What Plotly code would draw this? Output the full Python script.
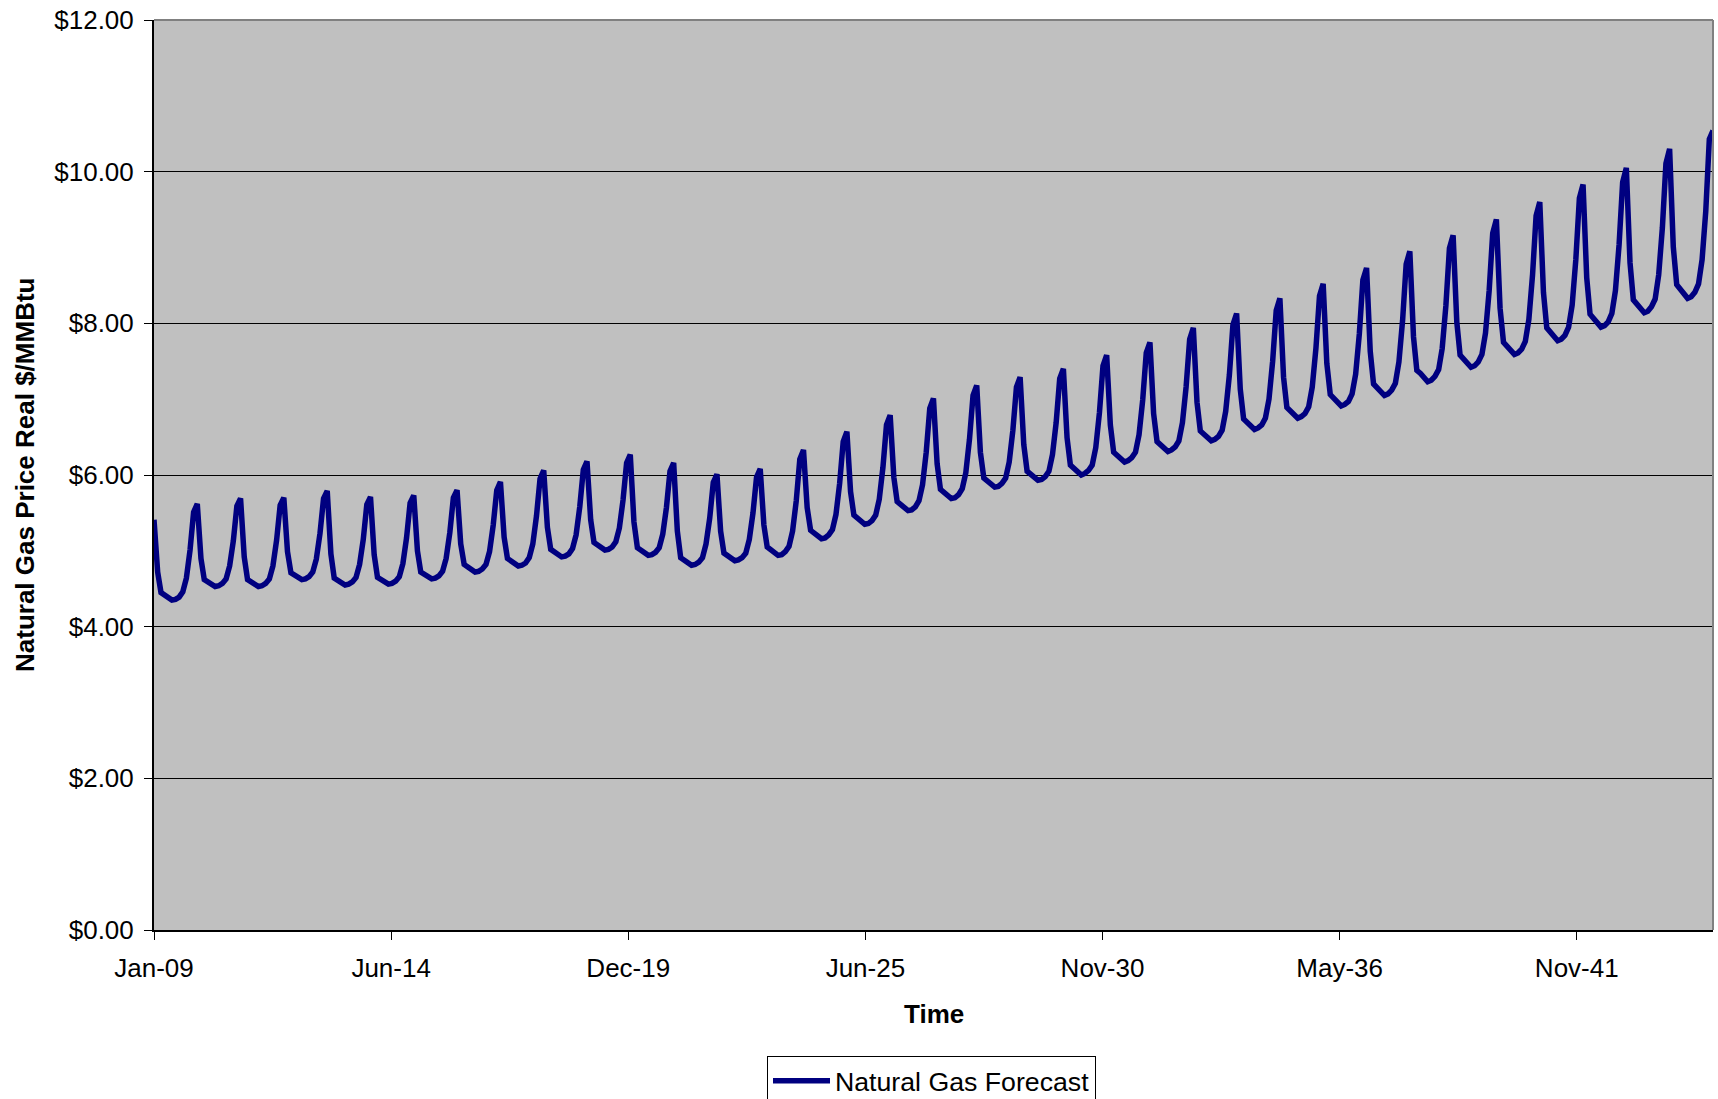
import pandas as pd
import plotly.graph_objects as go

series_name = "Natural Gas Forecast"
first_month = "2009-01-01"

# Monthly natural gas price forecast (real $/MMBtu), Jan-2009 through Jan-2045
gas_price = [
    5.41, 4.72, 4.45, 4.42, 4.38, 4.35, 4.36, 4.39, 4.46, 4.64, 5.01, 5.51,   # 2009
    5.62, 4.90, 4.62, 4.59, 4.56, 4.53, 4.54, 4.57, 4.63, 4.80, 5.13, 5.59,   # 2010
    5.69, 4.92, 4.62, 4.59, 4.56, 4.53, 4.54, 4.57, 4.63, 4.80, 5.14, 5.60,   # 2011
    5.70, 4.99, 4.71, 4.68, 4.65, 4.62, 4.63, 4.66, 4.72, 4.89, 5.23, 5.69,   # 2012
    5.79, 4.96, 4.64, 4.61, 4.58, 4.55, 4.56, 4.59, 4.65, 4.82, 5.15, 5.61,   # 2013
    5.71, 4.95, 4.65, 4.62, 4.59, 4.56, 4.57, 4.60, 4.66, 4.83, 5.17, 5.63,   # 2014
    5.73, 5.00, 4.72, 4.69, 4.66, 4.63, 4.64, 4.67, 4.73, 4.90, 5.24, 5.70,   # 2015
    5.80, 5.09, 4.82, 4.79, 4.75, 4.72, 4.73, 4.76, 4.82, 4.99, 5.34, 5.80,   # 2016
    5.91, 5.18, 4.90, 4.87, 4.83, 4.80, 4.81, 4.84, 4.91, 5.09, 5.46, 5.95,   # 2017
    6.06, 5.31, 5.02, 4.99, 4.95, 4.92, 4.93, 4.96, 5.03, 5.21, 5.58, 6.07,   # 2018
    6.18, 5.41, 5.11, 5.08, 5.04, 5.01, 5.02, 5.05, 5.12, 5.30, 5.67, 6.16,   # 2019
    6.27, 5.38, 5.04, 5.01, 4.97, 4.94, 4.95, 4.98, 5.04, 5.22, 5.57, 6.05,   # 2020
    6.16, 5.26, 4.91, 4.88, 4.84, 4.81, 4.82, 4.85, 4.91, 5.09, 5.43, 5.90,   # 2021
    6.01, 5.26, 4.97, 4.94, 4.90, 4.87, 4.88, 4.91, 4.97, 5.15, 5.50, 5.97,   # 2022
    6.08, 5.34, 5.05, 5.02, 4.98, 4.94, 4.95, 4.99, 5.06, 5.26, 5.66, 6.21,   # 2023
    6.33, 5.57, 5.27, 5.24, 5.20, 5.16, 5.17, 5.21, 5.28, 5.48, 5.89, 6.44,   # 2024
    6.57, 5.78, 5.47, 5.43, 5.39, 5.35, 5.36, 5.40, 5.47, 5.68, 6.10, 6.66,   # 2025
    6.79, 5.97, 5.65, 5.61, 5.57, 5.53, 5.54, 5.58, 5.66, 5.87, 6.30, 6.88,   # 2026
    7.01, 6.15, 5.81, 5.77, 5.73, 5.69, 5.70, 5.74, 5.82, 6.03, 6.47, 7.05,   # 2027
    7.18, 6.30, 5.96, 5.92, 5.88, 5.84, 5.85, 5.89, 5.96, 6.17, 6.59, 7.16,   # 2028
    7.29, 6.40, 6.05, 6.01, 5.97, 5.93, 5.94, 5.98, 6.05, 6.27, 6.69, 7.27,   # 2029
    7.40, 6.49, 6.13, 6.09, 6.04, 6.00, 6.02, 6.06, 6.13, 6.36, 6.82, 7.44,   # 2030
    7.58, 6.66, 6.30, 6.26, 6.21, 6.17, 6.19, 6.23, 6.30, 6.53, 6.99, 7.61,   # 2031
    7.75, 6.81, 6.44, 6.40, 6.35, 6.31, 6.33, 6.37, 6.45, 6.69, 7.16, 7.79,   # 2032
    7.94, 6.96, 6.58, 6.54, 6.49, 6.45, 6.47, 6.51, 6.59, 6.84, 7.32, 7.98,   # 2033
    8.13, 7.13, 6.74, 6.70, 6.64, 6.60, 6.62, 6.66, 6.75, 7.00, 7.50, 8.17,   # 2034
    8.33, 7.29, 6.89, 6.85, 6.79, 6.75, 6.77, 6.81, 6.90, 7.16, 7.67, 8.36,   # 2035
    8.52, 7.47, 7.06, 7.01, 6.96, 6.91, 6.93, 6.97, 7.07, 7.33, 7.86, 8.57,   # 2036
    8.73, 7.63, 7.20, 7.16, 7.10, 7.05, 7.07, 7.12, 7.21, 7.49, 8.04, 8.78,   # 2037
    8.95, 7.82, 7.38, 7.34, 7.28, 7.23, 7.25, 7.30, 7.39, 7.67, 8.23, 8.99,   # 2038
    9.16, 8.02, 7.58, 7.53, 7.47, 7.42, 7.44, 7.49, 7.59, 7.87, 8.43, 9.19,   # 2039
    9.37, 8.20, 7.75, 7.70, 7.64, 7.59, 7.61, 7.66, 7.76, 8.05, 8.64, 9.42,   # 2040
    9.60, 8.41, 7.94, 7.88, 7.82, 7.77, 7.79, 7.84, 7.95, 8.24, 8.84, 9.65,   # 2041
    9.83, 8.60, 8.12, 8.07, 8.00, 7.95, 7.97, 8.02, 8.13, 8.43, 9.04, 9.86,   # 2042
    10.05, 8.80, 8.31, 8.26, 8.19, 8.14, 8.16, 8.22, 8.32, 8.64, 9.26, 10.11, # 2043
    10.30, 9.01, 8.51, 8.45, 8.39, 8.33, 8.35, 8.41, 8.52, 8.84, 9.48, 10.43, # 2044
    10.54,                                                                    # 2045
]

x_tick_labels = ["Jan-09", "Jun-14", "Dec-19", "Jun-25", "Nov-30", "May-36", "Nov-41"]
y_tick_values = [0, 2, 4, 6, 8, 10, 12]
y_tick_labels = ["$0.00", "$2.00", "$4.00", "$6.00", "$8.00", "$10.00", "$12.00"]

x_title = "Time"
y_title = "Natural Gas Price Real $/MMBtu"

# one point per month
months = pd.date_range(first_month, periods=len(gas_price), freq="MS")

# date axis labelled every 2000 days from the first month
label_days = 2000
tick_dates = [months[0] + pd.Timedelta(days=label_days * i) for i in range(len(x_tick_labels))]

FONT = "Arial, 'Liberation Sans', sans-serif"

fig = go.Figure(
    go.Scatter(
        x=months,
        y=gas_price,
        mode="lines",
        name=series_name,
        line=dict(color="#000080", width=5.5),
        showlegend=True,
    )
)

fig.update_layout(
    width=1718,
    height=1099,
    margin=dict(l=154, r=5, t=20, b=169, autoexpand=False),
    paper_bgcolor="white",
    plot_bgcolor="#C0C0C0",
    font=dict(family=FONT, size=26, color="black"),
    showlegend=True,
    legend=dict(
        orientation="h",
        x=(767 - 154) / 1559,
        y=(930 - 1056) / 910,
        xanchor="left",
        yanchor="top",
        itemwidth=57,
        bordercolor="black",
        borderwidth=1,
        bgcolor="white",
        font=dict(family=FONT, size=26.7, color="black"),
    ),
)

fig.update_xaxes(
    type="date",
    range=[months[0], months[-1]],
    tickvals=tick_dates,
    ticktext=x_tick_labels,
    ticks="outside",
    ticklen=8,
    tickwidth=1,
    tickcolor="black",
    ticklabelstandoff=6,
    showline=True,
    linecolor="black",
    linewidth=2,
    showgrid=False,
    zeroline=False,
    tickfont=dict(family=FONT, size=26, color="black"),
)

fig.update_yaxes(
    range=[0, 12],
    tickvals=y_tick_values,
    ticktext=y_tick_labels,
    ticks="outside",
    ticklen=8,
    tickwidth=1,
    tickcolor="black",
    ticklabelstandoff=5,
    showline=True,
    linecolor="black",
    linewidth=2,
    showgrid=True,
    gridcolor="black",
    gridwidth=1,
    zeroline=False,
    tickfont=dict(family=FONT, size=26, color="black"),
)

# grey frame along the top and right of the plotting area
fig.add_shape(
    type="line", xref="x domain", yref="y domain",
    x0=0, x1=1, y0=1, y1=1, line=dict(color="#808080", width=2), layer="above",
)
fig.add_shape(
    type="line", xref="x domain", yref="y domain",
    x0=1, x1=1, y0=0, y1=1, line=dict(color="#808080", width=2), layer="above",
)

# axis titles
fig.add_annotation(
    text=f"<b>{x_title}</b>", xref="paper", yref="paper",
    x=0.5, y=(930 - 1014) / 910, xanchor="center", yanchor="middle",
    showarrow=False, font=dict(family=FONT, size=26, color="black"),
)
fig.add_annotation(
    text=f"<b>{y_title}</b>", xref="paper", yref="paper",
    x=(25 - 154) / 1559, y=0.5, xanchor="center", yanchor="middle",
    textangle=-90, showarrow=False, font=dict(family=FONT, size=26, color="black"),
)

fig.write_html("out.html")
